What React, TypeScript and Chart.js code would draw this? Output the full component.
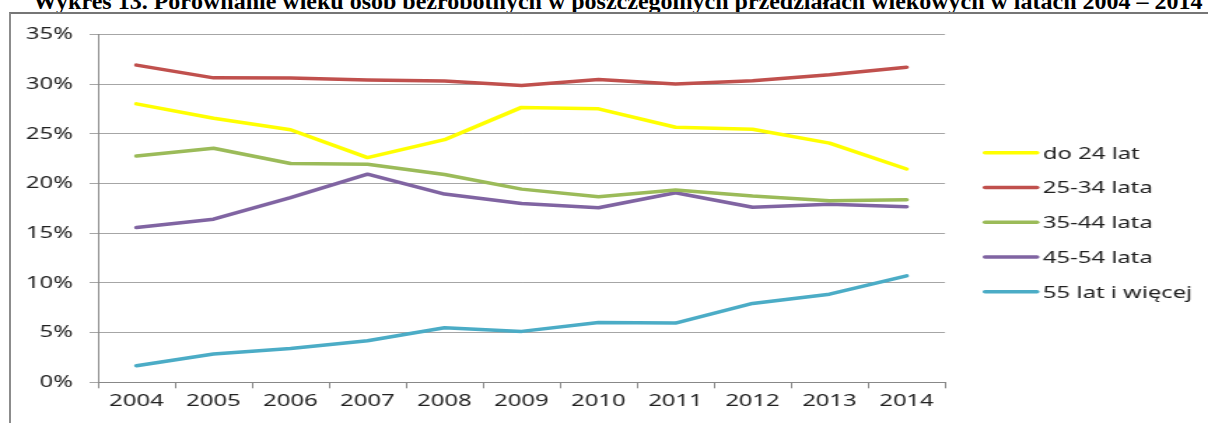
import React, { useEffect, useRef } from "react";
import { Chart, registerables } from "chart.js";

Chart.register(...registerables);

const years = ["2004", "2005", "2006", "2007", "2008", "2009", "2010", "2011", "2012", "2013", "2014"];
const seriesLabels = ["do 24 lat", "25-34 lata", "35-44 lata", "45-54 lata", "55 lat i więcej"];
const do24 = [28.0, 26.55, 25.4, 22.6, 24.4, 27.65, 27.5, 25.65, 25.45, 24.05, 21.45];
const age25_34 = [31.9, 30.62, 30.6, 30.4, 30.3, 29.86, 30.45, 30.0, 30.32, 30.93, 31.68];
const age35_44 = [22.76, 23.54, 22.0, 21.93, 20.9, 19.43, 18.66, 19.33, 18.73, 18.27, 18.36];
const age45_54 = [15.56, 16.4, 18.57, 20.93, 18.93, 17.99, 17.55, 19.07, 17.6, 17.9, 17.66];
const age55plus = [1.67, 2.84, 3.41, 4.18, 5.48, 5.12, 6.02, 5.96, 7.93, 8.86, 10.7];
const seriesColors = ["#FFFF00", "#C0504D", "#9BBB59", "#8064A2", "#4BACC6"];
const yMax = 35;
const yStep = 5;
const titleText =
  "Wykres 13. Porównanie wieku osób bezrobotnych w poszczególnych przedziałach wiekowych w latach 2004 – 2014";

const CSS_W = 1208;
const H = 423;
const INT_W = 863;
const K = CSS_W / INT_W;
const FONT = '"Noto Sans", "Open Sans", sans-serif';

const sideLegend = {
  id: "sideLegend",
  afterDraw(chart: any) {
    const ctx = chart.ctx;
    ctx.save();
    ctx.font = `17px ${FONT}`;
    ctx.textBaseline = "middle";
    ctx.textAlign = "left";
    chart.data.datasets.forEach((ds: any, i: number) => {
      const y = 152.7 + i * 34.75;
      ctx.strokeStyle = ds.borderColor;
      ctx.lineWidth = ds.borderWidth;
      ctx.lineCap = "round";
      ctx.beginPath();
      ctx.moveTo(985 / K, y);
      ctx.lineTo(1037 / K, y);
      ctx.stroke();
      ctx.fillStyle = "#222";
      ctx.fillText(ds.label, 1043 / K, y + 1);
    });
    ctx.restore();
  },
};

export default function App() {
  const ref = useRef<HTMLCanvasElement | null>(null);

  useEffect(() => {
    if (!ref.current) return;
    const series = [do24, age25_34, age35_44, age45_54, age55plus];
    const chart = new Chart(ref.current, {
      type: "line",
      data: {
        labels: years,
        datasets: series.map((d, i) => ({
          label: seriesLabels[i],
          data: d,
          borderColor: seriesColors[i],
          backgroundColor: seriesColors[i],
          borderWidth: 3.5,
          pointRadius: 0,
          tension: 0,
          fill: false,
          borderCapStyle: "round" as const,
          borderJoinStyle: "round" as const,
        })),
      },
      plugins: [sideLegend],
      options: {
        animation: false,
        responsive: false,
        devicePixelRatio: 1,
        events: [],
        layout: { padding: { top: 34.3, right: INT_W - 945 / K, bottom: 0, left: 0 } },
        plugins: {
          legend: { display: false },
          tooltip: { enabled: false },
          title: { display: false },
        },
        scales: {
          x: {
            type: "category",
            offset: true,
            grid: {
              offset: true,
              drawOnChartArea: false,
              drawTicks: true,
              tickLength: 6,
              color: "#888",
              lineWidth: 1,
            },
            border: { color: "#888", width: 1 },
            ticks: {
              color: "#222",
              font: { family: FONT, size: 17 },
              padding: 3,
              maxRotation: 0,
              autoSkip: false,
            },
            afterFit: (s: any) => {
              s.height = H - 382.3;
            },
          },
          y: {
            min: 0,
            max: yMax,
            ticks: {
              stepSize: yStep,
              color: "#222",
              font: { family: FONT, size: 17 },
              padding: 12,
              callback: (v: any) => `${v}%`,
            },
            grid: {
              color: "#a6a6a6",
              lineWidth: 1,
              drawTicks: true,
              tickLength: 6,
            },
            border: { color: "#888", width: 1 },
            afterFit: (s: any) => {
              s.width = 98 / K;
            },
          },
        },
      },
    });
    return () => chart.destroy();
  }, []);

  return (
    <div
      style={{
        position: "absolute",
        left: 0,
        top: 0,
        width: CSS_W,
        height: H,
        overflow: "hidden",
        background: "#fff",
      }}
    >
      <div
        style={{
          position: "absolute",
          left: 33,
          top: -11,
          whiteSpace: "nowrap",
          fontFamily: '"Liberation Serif", "Times New Roman", serif',
          fontWeight: "bold",
          fontSize: 24,
          lineHeight: "24px",
          color: "#000",
        }}
      >
        {titleText}
      </div>
      <div
        style={{
          position: "absolute",
          left: 9,
          top: 12,
          width: CSS_W - 9,
          height: H,
          borderTop: "2px solid #767676",
          borderLeft: "2px solid #8c8c8c",
          boxSizing: "border-box",
        }}
      />
      <canvas
        ref={ref}
        width={INT_W}
        height={H}
        style={{ position: "absolute", left: 0, top: 0, width: CSS_W, height: H }}
      />
    </div>
  );
}
